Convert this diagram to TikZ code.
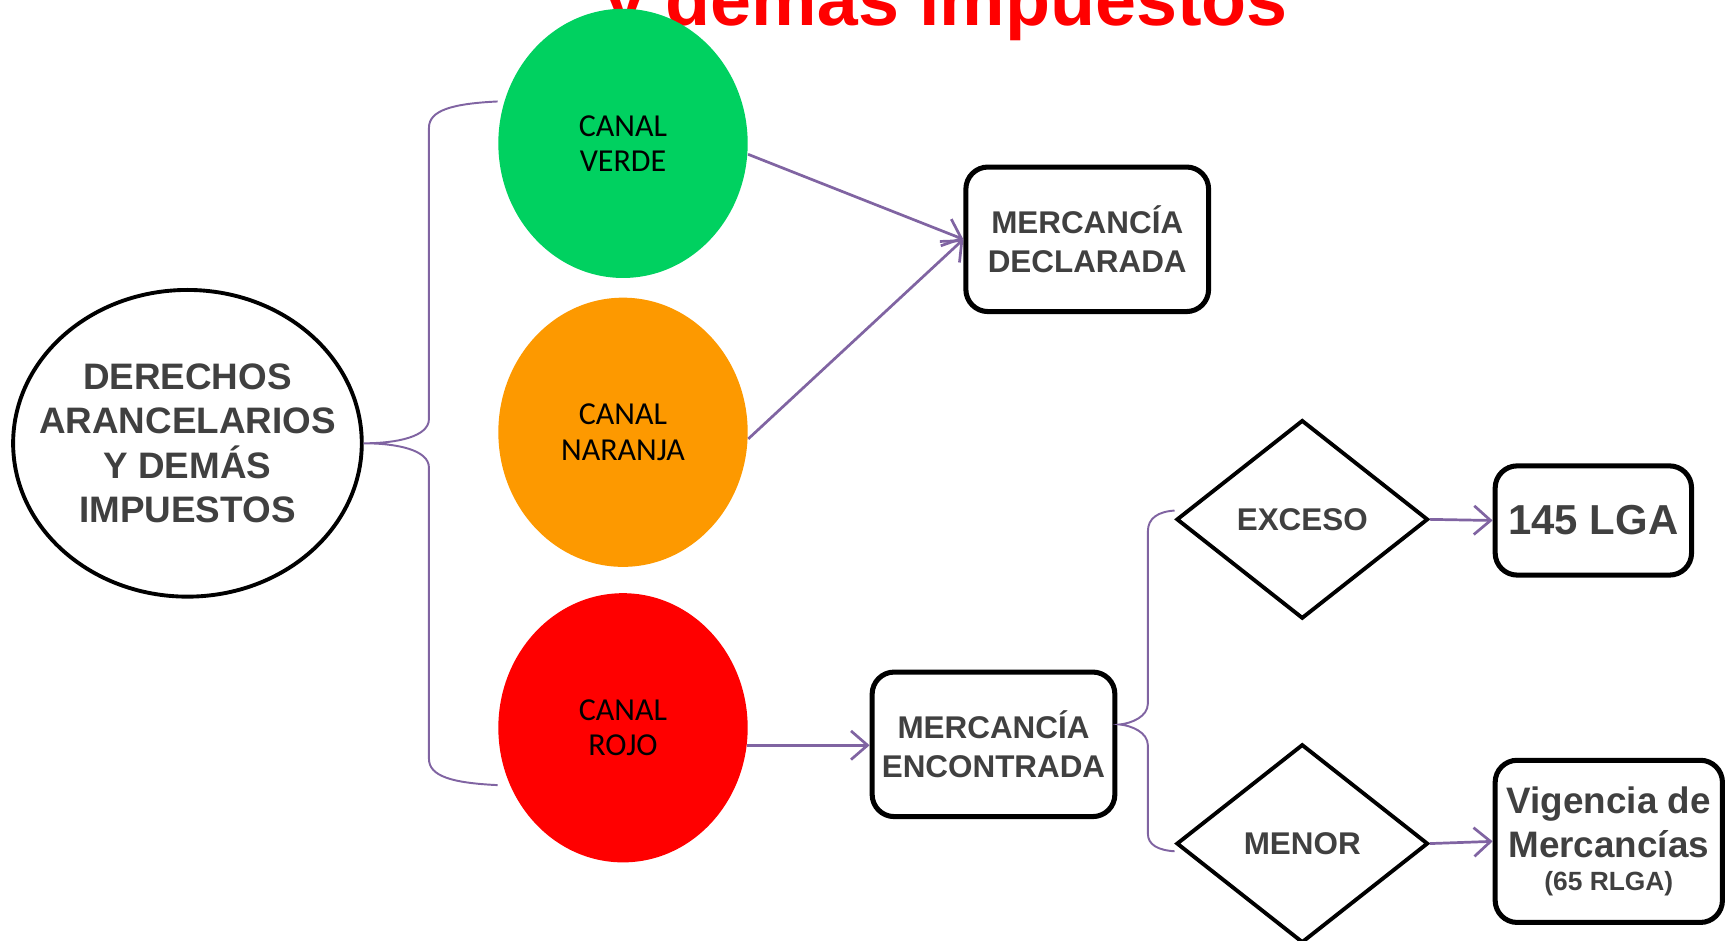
\documentclass[tikz,border=0pt]{standalone}
\usepackage{fontspec}
\setmainfont{Liberation Sans}
\newfontfamily\calibri{Carlito}
\usetikzlibrary{arrows.meta, shapes.geometric, calc}
\definecolor{verde}{RGB}{0,209,96}
\definecolor{naranja}{RGB}{253,153,0}
\definecolor{rojo}{RGB}{255,0,0}
\definecolor{morado}{RGB}{128,100,162}
\definecolor{txtgray}{RGB}{64,64,64}

\begin{document}
\begin{tikzpicture}[x=0.01cm, y=-0.01cm,
    lbl/.style={font=\bfseries\fontsize{8.1}{10}\selectfont, text=txtgray, align=center},
    canal/.style={ellipse, minimum width=2.26cm, minimum height=2.44cm, inner sep=0pt, align=center, font=\calibri\fontsize{8.25}{9.1}\selectfont},
    caja/.style={rectangle, rounded corners=0.2cm, draw, line width=1.3pt, inner sep=0pt, lbl},
    rombo/.style={diamond, draw, line width=1pt, minimum width=2.28cm, minimum height=1.8cm, inner sep=0pt, lbl},
    flecha/.style={draw=morado, line width=0.7pt, -{Straight Barb[length=1.5mm, width=2.6mm]}},
    llave/.style={draw=morado, line width=0.5pt}]
    \useasboundingbox (0,0) rectangle (1568,853);

    \node[font=\bfseries\fontsize{19}{22}\selectfont, text=rojo, anchor=base] (titulo) at (858,23) {y demás impuestos};

    \node[ellipse, draw, line width=1pt, minimum width=3.16cm, minimum height=2.78cm, inner sep=0pt,
        label={[lbl, font=\bfseries\fontsize{9.5}{11.5}\selectfont]center:{DERECHOS\\ARANCELARIOS\\Y DEMÁS\\IMPUESTOS}}] (derechos) at (170,402) {};
    \node[canal, fill=verde] (verde) at (565,130) {CANAL\\VERDE};
    \node[canal, fill=naranja] (naranja) at (565,392) {CANAL\\NARANJA};
    \node[canal, fill=rojo] (rojo) at (565,660) {CANAL\\ROJO};
    \node[caja, minimum width=2.2cm, minimum height=1.31cm] (declarada) at (986,217) {MERCANCÍA\\DECLARADA};
    \node[caja, minimum width=2.2cm, minimum height=1.31cm] (encontrada) at (901,675) {MERCANCÍA\\ENCONTRADA};
    \node[rombo] (exceso) at (1181,471) {EXCESO};
    \node[rombo] (menor) at (1181,765) {MENOR};
    \node[caja, minimum width=1.78cm, minimum height=0.99cm, font=\bfseries\fontsize{10.8}{13}\selectfont] (lga) at (1445,472) {145 LGA};
    \node[caja, minimum width=2.06cm, minimum height=1.47cm, font=\bfseries\fontsize{9.5}{11.4}\selectfont] (vigencia) at (1459,763) {Vigencia de\\Mercancías\\[-3pt]{\fontsize{6.8}{10}\selectfont(65 RLGA)}};

    \coordinate (vt) at ($(verde.west)+(0,-38)$);
    \coordinate (rt) at ($(rojo.west)+(0,52)$);
    \coordinate (et) at ($(exceso.west)+(0,-8)$);
    \coordinate (mt) at ($(menor.west)+(0,7)$);
    \coordinate (punta) at ($(encontrada.east)+(2,-18)$);

    \draw[llave] (vt) .. controls (410,94) and (389,100) .. (389,116) -- (389,380) .. controls (389,396) and (360,402) .. (derechos.east)
        .. controls (360,402) and (389,408) .. (389,424) -- (389,688) .. controls (389,704) and (410,710) .. (rt);
    \draw[llave] (et) .. controls (1050,464) and (1041,470) .. (1041,482) -- (1041,638) .. controls (1041,650) and (1026,656) .. (punta)
        .. controls (1026,658) and (1041,664) .. (1041,676) -- (1041,756) .. controls (1041,766) and (1050,771) .. (mt);

    \draw[flecha] (verde.-5) -- (declarada.west);
    \draw[flecha] (naranja.-3) -- (declarada.west);
    \draw[flecha] (rojo.-8) -- (rojo.-8 -| encontrada.west);
    \draw[flecha] (exceso.east) -- (lga.west);
    \draw[flecha] (menor.east) -- (vigencia.west);
\end{tikzpicture}
\end{document}
